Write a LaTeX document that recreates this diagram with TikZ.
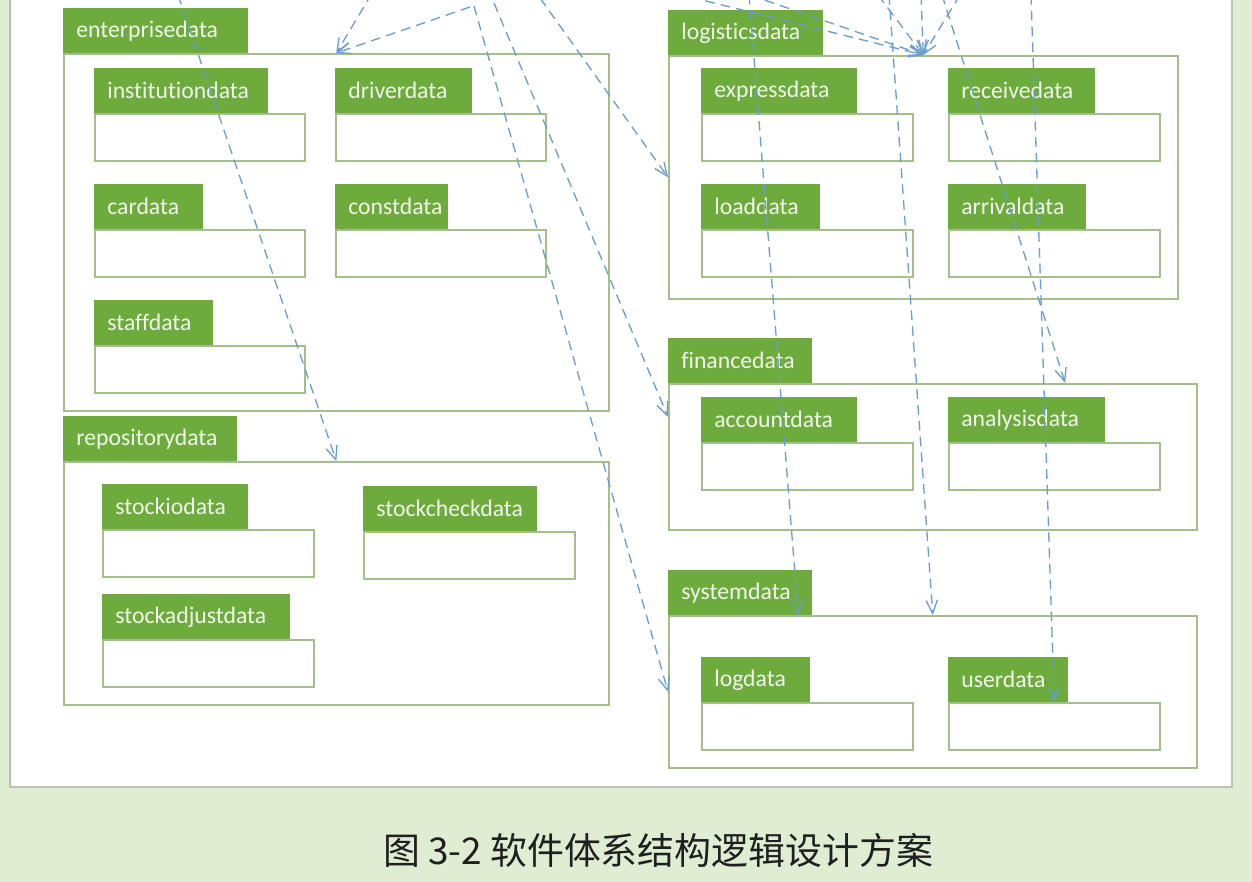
\documentclass[tikz,border=0pt]{standalone}
\usepackage{fontspec}
\setmainfont{Carlito}[Ligatures={NoCommon}]
\newfontfamily\cjkfont{Noto Sans CJK SC}
\usetikzlibrary{arrows.meta,calc}
\definecolor{bgreen}{HTML}{DFEDD3}
\definecolor{tabgreen}{HTML}{6CAB3C}
\definecolor{tabtext}{HTML}{F2F7EC}
\definecolor{boxline}{HTML}{A4BF8C}
\definecolor{depblue}{HTML}{6A9ED0}
\definecolor{panelline}{HTML}{BCC3B4}
\tikzset{
  tabbox/.style={fill=tabgreen, text=tabtext, anchor=north west, inner xsep=0.26cm,
    inner ysep=0pt, minimum height=0.9cm, align=left,
    font=\fontsize{13.5}{15}\selectfont},
  bodybox/.style={draw=boxline, line width=0.9pt, fill=white, anchor=north west, inner sep=0pt},
  dep/.style={draw=depblue, line width=0.75pt, dash pattern=on 5.5pt off 3.5pt,
    -{Straight Barb[length=7.5pt,width=6.5pt]}},
}
\newcommand{\pkgbox}[7]{%
  \pgfmathsetmacro{\pkgtw}{(#5-26)*0.02}%
  \pgfmathsetmacro{\pkgbw}{#6*0.02}%
  \pgfmathsetmacro{\pkgbh}{#7*0.02}%
  \node[bodybox, minimum width=\pkgbw cm, minimum height=\pkgbh cm] (#1) at (#3,#4+45) {};
  \node[tabbox, text width=\pkgtw cm] (#1-tab) at (#3,#4) {#2};
}
\begin{document}
\begin{tikzpicture}[x=0.02cm,y=-0.02cm]
\path[use as bounding box] (0,0) rectangle (1252,882);
\fill[bgreen] (0,0) rectangle (1252,882);
\begin{scope}
\clip (0,0) rectangle (1252,882);
\draw[panelline, line width=0.8pt, fill=white] (10,-10) rectangle (1232,787);

% enterprise
\pkgbox{enterprisedata}{enterprisedata}{63}{8}{185}{545}{357}
\pkgbox{institutiondata}{institutiondata}{94}{68}{174}{210}{47}
\pkgbox{driverdata}{driverdata}{335}{68}{137}{210}{47}
\pkgbox{cardata}{cardata}{94}{184}{109}{210}{47}
\pkgbox{constdata}{constdata}{335}{184}{113}{210}{47}
\pkgbox{staffdata}{staffdata}{94}{300}{119}{210}{47}
% repository
\pkgbox{repositorydata}{repositorydata}{63}{416}{174}{545}{243}
\pkgbox{stockiodata}{stockiodata}{102}{484}{146}{211}{47}
\pkgbox{stockcheckdata}{stockcheckdata}{363}{486}{174}{211}{47}
\pkgbox{stockadjustdata}{stockadjustdata}{102}{594}{188}{211}{47}
% logistics
\pkgbox{logisticsdata}{logisticsdata}{668}{10}{155}{509}{243}
\pkgbox{expressdata}{expressdata}{701}{68}{156}{211}{47}
\pkgbox{receivedata}{receivedata}{948}{68}{147}{211}{47}
\pkgbox{loaddata}{loaddata}{701}{184}{119}{211}{47}
\pkgbox{arrivaldata}{arrivaldata}{948}{184}{138}{211}{47}
% finance
\pkgbox{financedata}{financedata}{668}{338}{144}{528}{146}
\pkgbox{accountdata}{accountdata}{701}{397}{156}{211}{47}
\pkgbox{analysisdata}{analysisdata}{948}{397}{157}{211}{47}
% system
\pkgbox{systemdata}{systemdata}{668}{570}{144}{528}{152}
\pkgbox{logdata}{logdata}{701}{657}{109}{211}{47}
\pkgbox{userdata}{userdata}{948}{657}{120}{211}{47}

% sources (outside the visible part)
\coordinate (s1) at (173,-20);
\coordinate (s2) at (380,-20);
\coordinate (s3) at (470,7);
\coordinate (s4) at (474,6);
\coordinate (s5) at (494,3);
\coordinate (s6) at (540,-2);
\coordinate (s7) at (690,-3);
\coordinate (s8) at (750,-5);
\coordinate (s9) at (878,-5);
\coordinate (s10) at (921,-5);
\coordinate (s11) at (960,-5);
\coordinate (s12) at (749,-5);
\coordinate (s13) at (889,-5);
\coordinate (s14) at (1031,-5);
\coordinate (s15) at (942,-5);

\draw[dep] (s1) -- (repositorydata.north);
\draw[dep] (s2) -- (enterprisedata.north);
\draw[dep] (s3) -- (enterprisedata.north);
\draw[dep] (s4) -- (systemdata.west);
\draw[dep] (s5) -- ($(financedata.north west)!0.23!(financedata.south west)$);
\draw[dep] (s6) -- (logisticsdata.west);
\draw[dep] (s7) -- (logisticsdata.north);
\draw[dep] (s8) -- (logisticsdata.north);
\draw[dep] (s9) -- (logisticsdata.north);
\draw[dep] (s10) -- (logisticsdata.north);
\draw[dep] (s11) -- (logisticsdata.north);
\draw[dep] (s12) -- ($(systemdata.north west)!0.246!(systemdata.north east)$);
\draw[dep] (s13) -- (systemdata.north);
\draw[dep] (s14) -- (userdata.north);
\draw[dep] (s15) -- ($(financedata.north west)!0.75!(financedata.north east)$);
\end{scope}

\node[font=\cjkfont\fontsize{21}{24}\selectfont, text=black!88] (caption) at (658,850) {图 3-2 软件体系结构逻辑设计方案};
\end{tikzpicture}
\end{document}
